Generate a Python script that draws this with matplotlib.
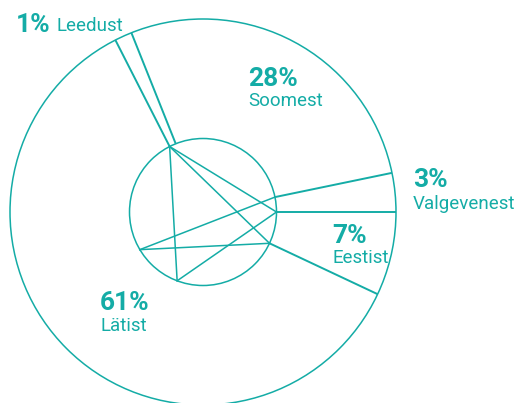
import numpy as np
import matplotlib.pyplot as plt
from matplotlib.patches import Circle

# ── data ────────────────────────────────────────────
labels = ["Valgevenest", "Soomest", "Leedust", "Lätist", "Eestist"]
shares = [3.25, 27.8, 1.45, 60.5, 7.0]          # % of the pie
pct_labels = ["3%", "28%", "1%", "61%", "7%"]

# decorative chords inside the hub: pairs of angles (deg) on the inner circle
extra_angles = {"E": 210.8, "F": 249.4}

teal = "#14aca6"

# ── geometry ────────────────────────────────────────
cx, cy = 203, 212
r_out, r_in = 193, 73.5

fig = plt.figure(figsize=(5.17, 4.03), dpi=100)
ax = fig.add_axes([0, 0, 1, 1])
ax.set_xlim(0, 517)
ax.set_ylim(403, 0)
ax.set_aspect("equal")
ax.axis("off")

def pt(r, ang):
    a = np.deg2rad(ang)
    return cx + r * np.cos(a), cy - r * np.sin(a)

ax.add_patch(Circle((cx, cy), r_out, fill=False, ec=teal, lw=1.1))
ax.add_patch(Circle((cx, cy), r_in, fill=False, ec=teal, lw=1.1))

# slice boundaries (radial lines between the rings)
bounds = np.concatenate([[0], np.cumsum(shares) * 3.6])[:-1]
for b in bounds:
    x0, y0 = pt(r_in, b)
    x1, y1 = pt(r_out, b)
    ax.plot([x0, x1], [y0, y1], color=teal, lw=1.4, solid_capstyle="butt")

# inner chords
C, B, A, D = bounds[0], bounds[1], bounds[3], bounds[4]
E, F = extra_angles["E"], extra_angles["F"]
chords = [(A, F), (A, C), (A, D), (E, B), (E, D), (F, C)]
for a1, a2 in chords:
    x0, y0 = pt(r_in, a1)
    x1, y1 = pt(r_in, a2)
    ax.plot([x0, x1], [y0, y1], color=teal, lw=1.1)

# ── labels ──────────────────────────────────────────
fam = ["Roboto", "DejaVu Sans"]
big, small = 19, 13.5

# (x, pct baseline y, name baseline y) per slice
spots = {
    "Valgevenest": (413, 187, 209),
    "Soomest": (248, 86, 106),
    "Lätist": (100, 310, 331),
    "Eestist": (332, 243, 263),
}
for name, pct in zip(labels, pct_labels):
    if name == "Leedust":
        ax.text(16, 32, pct, color=teal, fontsize=big, fontweight="bold",
                family=fam, va="baseline", ha="left")
        ax.text(56, 31, name, color=teal, fontsize=small, family=fam,
                va="baseline", ha="left")
        continue
    x, y1, y2 = spots[name]
    ax.text(x, y1, pct, color=teal, fontsize=big, fontweight="bold",
            family=fam, va="baseline", ha="left")
    ax.text(x, y2, name, color=teal, fontsize=small, family=fam,
            va="baseline", ha="left")

plt.savefig("out.png", dpi=100)
